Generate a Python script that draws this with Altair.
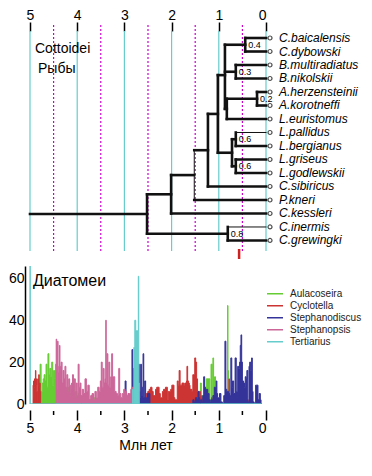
import altair as alt
import pandas as pd

# ---------------- Tree (Cottoidei) ----------------
taxa = ["C.baicalensis", "C.dybowski", "B.multiradiatus", "B.nikolskii",
        "A.herzensteinii", "A.korotneffi", "L.euristomus", "L.pallidus",
        "L.bergianus", "L.griseus", "L.godlewskii", "C.sibiricus",
        "P.kneri", "C.kessleri", "C.inermis", "C.grewingki"]

node_names = ["nC", "nB", "nA", "nAL", "nCBA", "nLp", "nLg", "nL",
              "n7", "n8", "n9", "n10", "nCC", "root"]
node_ages = [0.44, 0.64, 0.19, 0.83, 0.87, 0.64, 0.64, 0.72,
             1.02, 1.23, 1.52, 2.01, 0.81, 2.52]
node_children = [["C.baicalensis", "C.dybowski"],
                 ["B.multiradiatus", "B.nikolskii"],
                 ["A.herzensteinii", "A.korotneffi"],
                 ["nA", "L.euristomus"],
                 ["nC", "nB", "nAL"],
                 ["L.pallidus", "L.bergianus"],
                 ["L.griseus", "L.godlewskii"],
                 ["nLp", "nLg"],
                 ["nCBA", "nL"],
                 ["n7", "C.sibiricus"],
                 ["n8", "P.kneri"],
                 ["n9", "C.kessleri"],
                 ["C.inermis", "C.grewingki"],
                 ["n10", "nCC"]]
node_labels = ["0.4", "0.3", "0.2", "", "", "0.6", "0.6", "",
               "", "", "", "", "0.8", ""]
root_age = 5.0
thin_tips = ["L.pallidus", "C.inermis"]
thin_nodes = ["n9"]
red_marker_age = [0.57]

tree_title = "Cottoidei"
tree_subtitle = "Рыбы"
whole_ticks = [5, 4, 3, 2, 1, 0]
half_ticks = [4.5, 3.5, 2.5, 1.5, 0.5]

# ---------------- Diatoms ----------------
series_names = ["Aulacoseira", "Cyclotella", "Stephanodiscus", "Stephanopsis", "Tertiarius"]
series_colors = ["#66CC33", "#CC3333", "#333399", "#CC6699", "#66CCCC"]
diatom_title = "Диатомеи"
x_title = "Млн лет"

aula_age = [4.93, 4.92, 4.90, 4.82, 4.80, 4.77, 4.76, 4.75, 4.73, 4.71, 4.69, 4.67,
            4.65, 4.63, 4.61, 4.59, 4.57, 4.55, 4.53, 4.51, 4.49, 4.47, 4.45, 4.43,
            4.41, 4.38, 4.35, 4.32, 4.29, 4.26, 4.23, 4.20, 4.17, 4.14, 4.11, 4.08,
            4.05, 4.02, 3.99, 3.96, 3.93, 3.89, 3.85, 3.81, 3.77, 3.73, 3.69, 3.65,
            3.61, 3.57, 3.53, 3.49, 3.45, 3.41, 3.38, 3.35, 3.32,
            1.40, 1.38, 1.36, 1.33, 1.30, 1.27, 1.26, 1.23, 1.20, 1.18, 1.15, 1.13,
            1.12, 1.10, 1.08, 1.06, 0.82, 0.81, 0.80, 0.79, 0.78]
aula_val = [0, 3, 0, 1, 0, 19, 0, 6, 10, 12, 14, 11,
            19, 8, 24, 14, 17, 13, 20, 9, 16, 12, 19, 7,
            5, 9, 4, 7, 3, 6, 4, 8, 3, 5, 7, 12,
            4, 6, 2, 5, 1, 3, 2, 4, 1, 2, 1, 3,
            2, 1, 3, 2, 1, 3, 2, 1, 0,
            0, 10, 2, 4, 3, 8, 12, 12, 12, 2, 19, 3,
            22, 4, 13, 0, 0, 47, 16, 6, 0]

cycl_age = [4.94, 4.93, 4.92, 4.91, 4.90, 4.89, 4.88, 4.87, 4.86, 4.85, 4.84, 4.83,
            4.82, 4.81, 4.80, 4.79, 4.78, 4.77,
            2.60, 2.58, 2.55, 2.52, 2.49, 2.46, 2.43, 2.40, 2.38, 2.35, 2.33, 2.30,
            2.28, 2.25, 2.23, 2.21, 2.18, 2.16, 2.14, 2.12, 2.10, 2.08, 2.06, 2.03,
            2.01, 1.98, 1.96, 1.94, 1.92, 1.89, 1.87, 1.85, 1.83, 1.81, 1.79, 1.77,
            1.75, 1.73, 1.71, 1.69, 1.68, 1.67, 1.65, 1.63, 1.62, 1.60, 1.58, 1.56,
            1.54, 1.52, 1.50, 1.48, 1.46, 1.44, 1.42, 1.40, 1.38, 1.36, 1.34, 1.32,
            1.16, 1.15, 1.14, 0.79, 0.78, 0.77, 0.50, 0.49, 0.45, 0.41, 0.38, 0.37]
cycl_val = [0, 9, 11, 8, 12, 10, 16, 9, 12, 6, 0, 12,
            9, 14, 8, 10, 6, 0,
            0, 3, 3, 5, 6, 7, 8, 6, 4, 4, 7, 8,
            8, 5, 3, 3, 6, 7, 7, 8, 8, 2, 6, 6,
            7, 9, 9, 3, 2, 2, 11, 9, 16, 9, 9, 10,
            10, 9, 10, 10, 11, 18, 11, 10, 9, 7, 7, 6,
            14, 14, 22, 20, 12, 6, 5, 6, 4, 3, 2, 0,
            0, 3, 0, 0, 12, 0, 0, 2, 3, 2, 2, 0]

steph_age = [3.00, 2.97, 2.96, 2.92, 2.88, 2.85, 2.83, 2.82, 2.80, 2.79, 2.77, 2.74,
             2.72, 2.69, 2.68, 2.66, 2.65, 2.63, 2.61, 2.60, 2.58, 2.56, 2.54, 2.52,
             2.50, 2.47, 2.45,
             1.56, 1.54, 1.51, 1.48, 1.45, 1.43, 1.41, 1.40, 1.37, 1.35, 1.33, 1.31,
             1.29, 1.28, 1.26, 1.25, 1.22, 1.19, 1.17, 1.14, 1.11, 1.08, 1.06, 1.05,
             1.03, 1.02, 1.00, 0.97, 0.94, 0.91, 0.88, 0.86, 0.84, 0.82, 0.81, 0.78,
             0.76, 0.73, 0.72, 0.70, 0.67, 0.64, 0.62, 0.61, 0.59, 0.57, 0.55, 0.54,
             0.52, 0.51, 0.49, 0.46, 0.45, 0.43, 0.41, 0.40, 0.37, 0.35, 0.34, 0.31,
             0.30, 0.28, 0.27, 0.23, 0.21, 0.18, 0.16, 0.13, 0.11, 0.10]
steph_val = [0, 11, 0, 1, 2, 0, 26, 3, 17, 5, 3, 2,
             4, 19, 6, 3, 19, 4, 8, 24, 3, 11, 3, 2,
             5, 5, 0,
             0, 2, 1, 3, 2, 6, 3, 1, 2, 1, 4, 13,
             8, 7, 7, 7, 5, 2, 1, 2, 4, 8, 6, 11,
             5, 3, 3, 5, 1, 0, 4, 30, 7, 6, 6, 5,
             4, 22, 8, 11, 5, 22, 6, 6, 18, 17, 20, 28,
             33, 20, 11, 10, 8, 13, 12, 16, 1, 18, 20, 16,
             22, 6, 1, 0, 9, 9, 2, 5, 2, 0]

stop_age = [4.45, 4.44, 4.43, 4.41, 4.40, 4.38, 4.37, 4.36, 4.35, 4.33, 4.31, 4.29,
            4.27, 4.25, 4.23, 4.21, 4.19, 4.17, 4.15, 4.13, 4.11, 4.09, 4.07, 4.05,
            4.03, 4.01, 3.99, 3.97, 3.95, 3.93, 3.91, 3.88, 3.85, 3.82, 3.79, 3.76,
            3.73, 3.70, 3.67, 3.64, 3.61, 3.58, 3.55, 3.52, 3.50, 3.48, 3.46, 3.44,
            3.42, 3.40, 3.39, 3.38, 3.36, 3.34, 3.32, 3.30, 3.28, 3.26, 3.24, 3.22,
            3.19, 3.16, 3.13, 3.11, 3.09, 3.06, 3.03, 3.00, 2.97, 2.94, 2.91, 2.88,
            2.85, 2.82, 2.79, 2.76, 2.74]
stop_val = [0, 31, 5, 30, 15, 18, 28, 12, 18, 20, 10, 16,
            12, 18, 8, 14, 6, 12, 9, 4, 10, 14, 6, 12,
            3, 10, 4, 19, 8, 10, 4, 7, 5, 12, 6, 9,
            2, 4, 5, 2, 6, 3, 8, 6, 11, 20, 8, 17,
            10, 12, 40, 10, 24, 9, 20, 8, 13, 24, 13, 13,
            6, 5, 4, 17, 5, 3, 5, 7, 6, 4, 5, 5,
            7, 8, 5, 2, 0]

tert_age = [5.00, 4.99, 2.83, 2.82, 2.81, 2.79, 2.77, 2.75, 2.73, 2.71, 2.70, 2.69,
            2.68, 0.10]
tert_val = [70, 0, 0, 7, 0, 27, 40, 35, 35, 35, 61, 10,
            0, 0]

# ---------------- build tables ----------------
ypos = {t: i for i, t in enumerate(taxa)}
agepos = {t: 0.0 for t in taxa}
segs = []
for name, age, kids in zip(node_names, node_ages, node_children):
    ys = [ypos[k] for k in kids]
    ypos[name] = sum(ys) / len(ys)
    agepos[name] = age
    for k in kids:
        segs.append({"x": agepos[k], "x2": age, "y": ypos[k], "y2": ypos[k],
                     "thin": k in thin_tips})
    segs.append({"x": age, "x2": age, "y": min(ys), "y2": max(ys),
                 "thin": name in thin_nodes})
segs.append({"x": root_age, "x2": node_ages[-1], "y": ypos["root"],
             "y2": ypos["root"], "thin": False})
seg_df = pd.DataFrame(segs)
tips_df = pd.DataFrame({"taxon": taxa, "age": [0.0] * len(taxa),
                        "row": list(range(len(taxa)))})
nodes_df = pd.DataFrame({"label": node_labels, "age": node_ages,
                         "row": [ypos[n] for n in node_names]})
nodes_df = nodes_df[nodes_df["label"] != ""]

frames = []
for nm, a, v in [("Aulacoseira", aula_age, aula_val),
                 ("Cyclotella", cycl_age, cycl_val),
                 ("Stephanodiscus", steph_age, steph_val),
                 ("Stephanopsis", stop_age, stop_val),
                 ("Tertiarius", tert_age, tert_val)]:
    frames.append(pd.DataFrame({"series": nm, "age": a, "value": v}))
diat_df = pd.concat(frames, ignore_index=True)

# ---------------- chart ----------------
W = 241
H1 = 220
H2 = 138
FONT = "Liberation Sans"
xs = alt.Scale(domain=[5.106, 0.0], nice=False, zero=False)
ys_tree = alt.Scale(domain=[-0.519, 15.78], reverse=True, nice=False, zero=False)

top_axis = alt.Axis(orient="top", values=whole_ticks, format="d", tickSize=9,
                    tickColor="black", tickWidth=1.5, domain=False, grid=False,
                    labelFontSize=14, labelPadding=0, labelColor="black",
                    labelFont=FONT, title=None)

def tx(field):
    return alt.X(field, scale=xs, axis=top_axis)

def ty(field):
    return alt.Y(field, scale=ys_tree, axis=None)

grid_half = alt.Chart(pd.DataFrame({"age": half_ticks})).mark_rule(
    color="#CC00CC", strokeDash=[2, 2], strokeWidth=1.2).encode(
    x=tx("age:Q"), y=alt.value(-6), y2=alt.value(H1))
grid_whole = alt.Chart(pd.DataFrame({"age": whole_ticks})).mark_rule(
    color="#66CCCC", strokeWidth=1.2).encode(
    x=tx("age:Q"), y=alt.value(0), y2=alt.value(H1))
branches = alt.Chart(seg_df).mark_rule(color="#111111", strokeCap="square").encode(
    x=tx("x:Q"), x2="x2:Q", y=ty("y:Q"), y2="y2:Q",
    strokeWidth=alt.condition("datum.thin", alt.value(1), alt.value(2.6)))
tip_pts = alt.Chart(tips_df).mark_point(shape="circle", filled=False, size=16,
                                        color="black", strokeWidth=1.2, xOffset=4).encode(
    x=tx("age:Q"), y=ty("row:Q"))
tip_txt = alt.Chart(tips_df).mark_text(align="left", baseline="middle", dx=13,
                                       fontSize=12, fontStyle="italic", font=FONT,
                                       color="black").encode(
    x=tx("age:Q"), y=ty("row:Q"), text="taxon:N")
node_txt = alt.Chart(nodes_df).mark_text(align="left", baseline="middle", dx=3,
                                         fontSize=9, font=FONT, color="black").encode(
    x=tx("age:Q"), y=ty("row:Q"), text="label:N")
red_mark = alt.Chart(pd.DataFrame({"age": red_marker_age})).mark_rule(
    color="#CC2222", strokeWidth=2.5).encode(
    x=tx("age:Q"), y=alt.value(H1 - 2), y2=alt.value(H1 + 8))
title1 = alt.Chart(pd.DataFrame({"t": [tree_title]})).mark_text(
    align="left", baseline="middle", fontSize=14, font=FONT, color="black").encode(
    x=alt.value(10), y=alt.value(18), text="t:N")
title2 = alt.Chart(pd.DataFrame({"t": [tree_subtitle]})).mark_text(
    align="left", baseline="middle", fontSize=14, font=FONT, color="black").encode(
    x=alt.value(13), y=alt.value(38), text="t:N")

top = alt.layer(grid_whole, grid_half, branches, tip_pts, tip_txt, node_txt,
                red_mark, title1, title2).properties(width=W, height=H1)

# bottom panel
cscale = alt.Scale(domain=series_names, range=series_colors)
leg = alt.Legend(title=None, orient="none", legendX=241, legendY=22,
                 symbolType="stroke", symbolSize=256, symbolStrokeWidth=1.5,
                 labelFontSize=10, labelFont=FONT, labelColor="#222222",
                 rowPadding=0, clipHeight=11.5, labelOffset=6, padding=0)
bottom_axis = alt.Axis(orient="bottom", values=whole_ticks, format="d", tickSize=10,
                       offset=6, domain=False, grid=False, tickColor="black",
                       tickWidth=1.5, labelFontSize=14, labelPadding=1,
                       labelColor="black", labelFont=FONT, title=x_title,
                       titleFontSize=14, titleFontWeight="normal", titleFont=FONT,
                       titleColor="black", titlePadding=3)
y_axis = alt.Axis(values=[0, 20, 40, 60], ticks=False, domain=True,
                  domainColor="black", domainWidth=1.5, grid=False,
                  labelFontSize=14, labelPadding=1, labelColor="black",
                  labelFont=FONT, title=None)
ys_d = alt.Scale(domain=[0, 65.9], nice=False)

def bx(field):
    return alt.X(field, scale=xs, axis=bottom_axis)

layers = []
for nm in series_names:
    layers.append(alt.Chart(diat_df).transform_filter(
        alt.datum.series == nm).mark_area(interpolate="step", strokeWidth=1,
                                          clip=True, opacity=1).encode(
        x=bx("age:Q"),
        y=alt.Y("value:Q", stack=None, scale=ys_d, axis=y_axis),
        fill=alt.Fill("series:N", scale=cscale, legend=leg),
        stroke=alt.Stroke("series:N", scale=cscale, legend=leg)))
minor = alt.Chart(pd.DataFrame({"age": half_ticks})).mark_rule(
    color="black", strokeWidth=1.5).encode(
    x=bx("age:Q"), y=alt.value(H2 + 7), y2=alt.value(H2 + 11))
diat_lbl = alt.Chart(pd.DataFrame({"t": [diatom_title]})).mark_text(
    align="left", baseline="middle", fontSize=16, font=FONT, color="black").encode(
    x=alt.value(8), y=alt.value(15), text="t:N")
bottom = alt.layer(*layers, minor, diat_lbl).properties(width=W, height=H2)

chart = alt.vconcat(top, bottom, spacing=5).resolve_legend(
    fill="independent", stroke="independent").properties(
    padding=0).configure(font=FONT, view=alt.ViewConfig(stroke=None))

chart.save("out.html", embed_options={"renderer": "svg", "actions": False})
